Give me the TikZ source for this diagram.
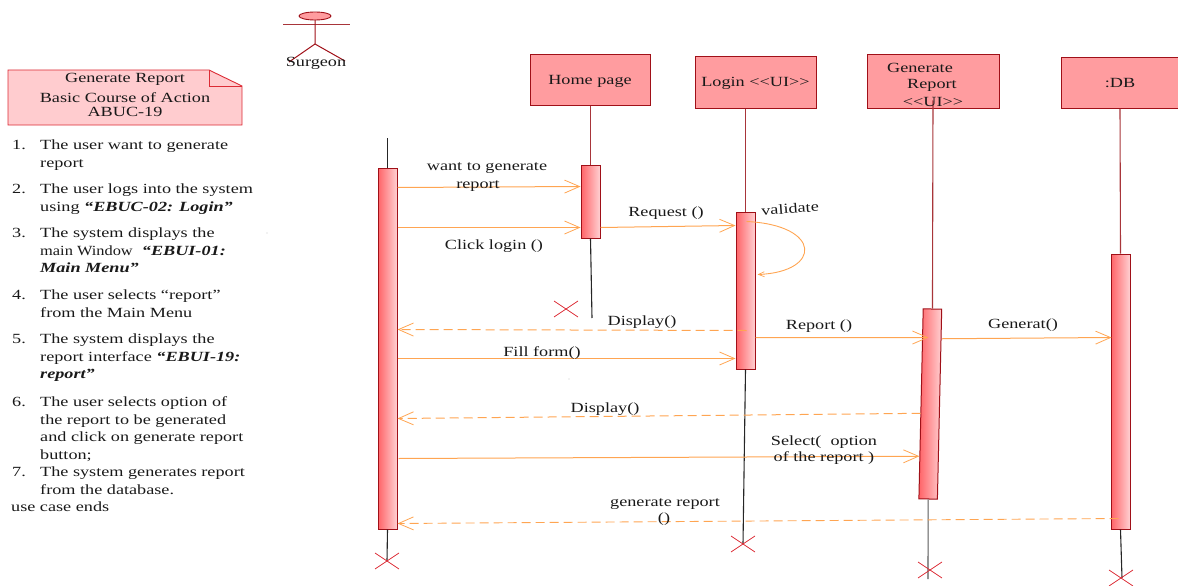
\documentclass[tikz,border=0pt]{standalone}
\usepackage{fontspec}
\setmainfont[FakeStretch=1.3]{Liberation Serif}
\usetikzlibrary{arrows.meta,calc}
\definecolor{boxfill}{HTML}{FF9C9F}
\definecolor{notefill}{HTML}{FFCCCF}
\definecolor{darkred}{HTML}{A01018}
\definecolor{lifered}{HTML}{A8353A}
\definecolor{xred}{HTML}{DC2B35}
\definecolor{msg}{HTML}{FFA552}
\definecolor{barL}{HTML}{FF6468}
\definecolor{barR}{HTML}{FFD0D2}
\newcommand{\ls}{\rule{0pt}{10pt}}
\newcommand{\ui}{<{}<UI>{}>}
\newcommand{\boxtext}[1]{\raisebox{-4.5pt}[0pt][0pt]{#1}}
\tikzset{
  every node/.style={font=\fontsize{14}{17.5}\selectfont, text=black!90, inner sep=0pt},
  objbox/.style={draw=darkred, fill=boxfill, line width=1pt, rectangle, align=center},
  activation/.style={draw=darkred, line width=1pt, rectangle, left color=barL, right color=barR, minimum width=19pt},
  lifeline/.style={draw=lifered, line width=1.1pt},
  tail/.style={draw=black!85, line width=1.1pt},
  msgline/.style={draw=msg, line width=1pt, -{Straight Barb[length=15pt,width=13pt,line width=0.8pt]}},
  msgdash/.style={msgline, dash pattern=on 9pt off 5pt},
  stopx/.style={draw=xred, line width=0.8pt},
  lbl/.style={align=center, yshift=-1.5pt},
  listtext/.style={anchor=north west, align=left},
}
\begin{document}
\begin{tikzpicture}[x=1pt,y=-1pt]
\useasboundingbox (0,0) rectangle (1178,586);
% actor
\draw[draw=darkred, fill=boxfill, line width=0.9pt] (315,16) ellipse [x radius=16, y radius=4];
\draw[lifered, line width=1pt] (283,25) -- (350,25);
\draw[darkred, line width=1pt] (315,20) -- (315,44) (289,62) -- (315,44) -- (345,61);
\node[lbl] (surgeon) at (316,62) {Surgeon};
% note
\draw[draw=xred, fill=notefill, line width=0.9pt] (8,70) -- (209,70) -- (242,86) -- (242,125) -- (8,125) -- cycle;
\draw[draw=xred, line width=0.9pt] (209,70) -- (209,86) -- (242,86);
\node[lbl] (n1) at (125,78) {Generate Report};
\node[lbl] (n2) at (125,96.5) {Basic Course of Action};
\node[lbl] (n3) at (125,110.5) {ABUC-19};
% list
\node[anchor=north west] (k1) at (12,139.5) {\ls 1.};
\node[listtext] (t1) at (40,139.5) {\ls The user want to generate\\report};
\node[anchor=north west] (k2) at (12,183.5) {\ls 2.};
\node[listtext] (t2) at (40,183.5) {\ls The user logs into the system\\using \textbf{\textit{“EBUC-02: Login”}}};
\node[anchor=north west] (k3) at (12,227.5) {\ls 3.};
\node[listtext] (t3) at (40,227.5) {\ls The system displays the\\\scalebox{0.9}[1]{main Window}\ \ \textbf{\textit{“EBUI-01:}}\\\textbf{\textit{Main Menu”}}};
\node[anchor=north west] (k4) at (12,289.5) {\ls 4.};
\node[listtext] (t4) at (40,289.5) {\ls The user selects “report”\\from the Main Menu};
\node[anchor=north west] (k5) at (12,333.5) {\ls 5.};
\node[listtext] (t5) at (40,333.5) {\ls The system displays the\\report interface \textbf{\textit{“EBUI-19:}}\\\textbf{\textit{report”}}};
\node[anchor=north west] (k6) at (12,396.5) {\ls 6.};
\node[listtext] (t6) at (40,396.5) {\ls The user selects option of\\the report to be generated\\and click on generate report\\button;};
\node[anchor=north west] (k7) at (12,466.5) {\ls 7.};
\node[listtext] (t7) at (40,466.5) {\ls The system generates report\\from the database.};
\node[anchor=north west] (k8) at (11,501.5) {\ls use case ends};
% specks
\fill[black!60] (267,233) circle (0.4);
\fill[black!60] (569,379) circle (0.4);
% object boxes
\node[objbox, minimum width=120pt, minimum height=50pt] (home) at (590,80) {\boxtext{Home page}};
\node[objbox, minimum width=121pt, minimum height=51pt] (login) at (755.5,82.5) {\raisebox{-4pt}[0pt][0pt]{Login \ui}};
\node[objbox, minimum width=132pt, minimum height=53pt] (gen) at (933,81.5) {};
\node[objbox, minimum width=118pt, minimum height=50.5pt] (db) at (1120,83) {\boxtext{:DB}};
% bars
\node[activation, minimum height=361pt] (ubar) at (387.5,348.5) {};
\node[activation, minimum height=73pt] (hbar) at (590.5,201.5) {};
\node[activation, minimum height=157pt] (lbar) at (745.5,290.5) {};
\node[activation, minimum width=18.5pt, minimum height=190pt, rotate=-1.3] (gbar) at (930.3,404) {};
\node[activation, minimum height=275pt] (dbar) at (1120.5,391.5) {};
% lifeline end points
\coordinate (ustart) at (387.5,138);
\coordinate (ux) at (387,561);
\coordinate (hx) at (592,318);
\coordinate (lx) at (743,544);
\coordinate (gx) at (928,579);
\coordinate (dx) at (1122,578);
% lifelines
\draw[tail] (ustart) -- (ubar.north);
\draw[tail] (ubar.south) -- (ux);
\draw[lifeline] (hbar.north |- home.south) -- (hbar.north);
\draw[tail] (hbar.south) -- (hx);
\draw[lifeline] (lbar.north |- login.south) -- (lbar.north);
\draw[tail] (lbar.south) -- (lx);
\draw[lifeline] ($(gen.south)+(0,-8)$) -- (gbar.north);
\draw[tail, black!65] (gbar.south) -- (gx);
\draw[lifeline] (db.south) -- (dbar.north);
\draw[tail] (dbar.south) -- (dx);
% stop marks
\draw[stopx] (375,553) -- (399,569) (375,569) -- (399,553);
\draw[stopx] (554,301) -- (578,317) (554,317) -- (578,301);
\draw[stopx] (731,536) -- (755,552) (731,552) -- (755,536);
\draw[stopx] (918,562) -- (942,578) (918,578) -- (942,562);
\draw[stopx] (1109,570) -- (1133,586) (1109,586) -- (1133,570);
% generate box text
\node[lbl] (gl1) at (920,66) {Generate};
\node[lbl] (gl2) at (932,84) {Report};
\node[lbl] (gl3) at (933,100) {\ui};
% messages
\draw[msgline] ($(ubar.north east)+(0,20)$) -- ($(hbar.north west)+(0,22)$);
\draw[msgline] ($(ubar.north east)+(0,60)$) -- ($(hbar.north west)+(0,63)$);
\draw[msgline] ($(hbar.north east)+(0,63)$) -- ($(lbar.north west)+(0,14)$);
\draw[msg, line width=0.9pt, -{Straight Barb[length=6pt,width=5pt,line width=0.7pt]}] ($(lbar.north)+(1,10)$) .. controls (822,225) and (822,272) .. ($(lbar.north east)+(2,63)$);
\draw[msgdash] ($(lbar.north)+(1,119)$) -- ($(ubar.north east)+(0,162)$);
\draw[msgline] ($(lbar.north east)+(0,126)$) -- ($(gbar.north)+(-4,29)$);
\draw[msgline] ($(gbar.north east)+(0,30)$) -- ($(dbar.north west)+(1,84)$);
\draw[msgline] ($(ubar.north east)+(0,191)$) -- ($(lbar.north west)+(0,147)$);
\draw[msgdash] ($(gbar.north west)+(-2,105)$) -- ($(ubar.north east)+(0,251)$);
\draw[msgline] ($(ubar.north east)+(1,291)$) -- ($(gbar.south west)+(1,-43)$);
\draw[msgdash, line width=0.9pt] ($(dbar.north)+(-2,265)$) -- ($(ubar.north east)+(0,356)$);
% labels
\node[lbl] (a1) at (487,167) {want to generate};
\node[lbl] (a2) at (478,185) {report};
\node[lbl] (a3) at (494,245) {Click login ()};
\node[lbl] (a4) at (666,212) {Request ()};
\node[lbl, rotate=4] (a5) at (790,207) {validate};
\node[lbl] (a6) at (642,321) {Display()};
\node[lbl] (a7) at (819,325) {Report ()};
\node[lbl] (a8) at (1023,324) {Generat()};
\node[lbl] (a9) at (542,352) {Fill form()};
\node[lbl] (a10) at (605,408) {Display()};
\node[lbl] (a11) at (824,441) {Select(\ \ option};
\node[lbl] (a12) at (824,457) {of the report )};
\node[lbl] (a13) at (665,503) {generate report};
\node[lbl] (a14) at (664,518) {()};
\end{tikzpicture}
\end{document}
